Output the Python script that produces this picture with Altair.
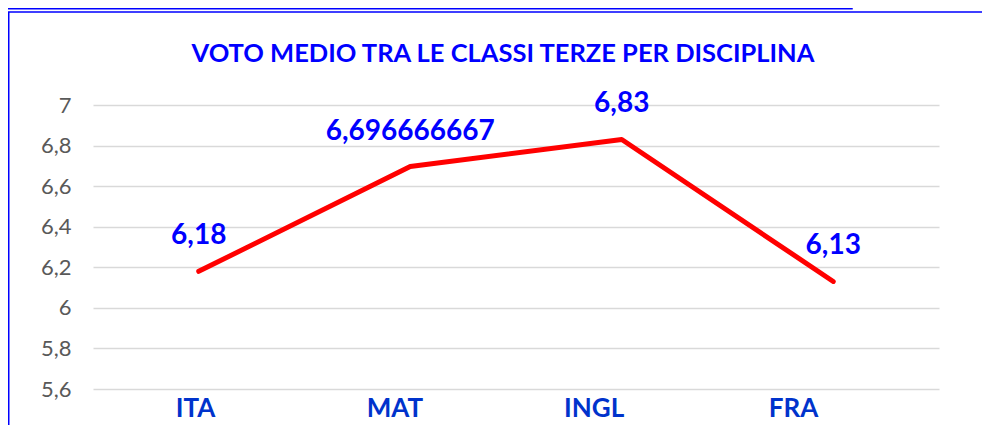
import altair as alt
import pandas as pd

categories = ["ITA", "MAT", "INGL", "FRA"]
values = [6.18, 6.696666667, 6.83, 6.13]
labels = [str(v).replace(".", ",") for v in values]
y_ticks = [5.6, 5.8, 6.0, 6.2, 6.4, 6.6, 6.8, 7.0]
title_text = "VOTO MEDIO TRA LE CLASSI TERZE PER DISCIPLINA"

df = pd.DataFrame({"cat": categories, "val": values, "lab": labels})

FONT = "Lato"
BLUE = "#0000FF"

x_enc = alt.X("cat:N", sort=categories, scale=alt.Scale(type="point", padding=0.5), axis=None)
y_enc = alt.Y("val:Q", scale=alt.Scale(domain=[5.6, 7.0], nice=False, zero=False),
              axis=alt.Axis(title=None, values=y_ticks, labelFont=FONT, labelFontSize=22,
                            labelColor="#595959", ticks=False, domain=False, labelPadding=22,
                            gridColor="#D9D9D9", gridWidth=1.5,
                            labelExpr="replace(format(datum.value, '.2~f'), '.', ',')"))

base = alt.Chart(df)

line = base.mark_line(color="#FF0000", strokeWidth=5, strokeCap="round", strokeJoin="round").encode(
    x=x_enc, y=y_enc)

text = base.mark_text(font=FONT, fontSize=28, fontWeight="bold", color=BLUE,
                      baseline="alphabetic", dy=-27).encode(
    x=alt.X("cat:N", sort=categories), y="val:Q", text="lab:N")

cat_labels = alt.Chart(df).mark_text(font=FONT, fontSize=26, fontWeight="bold", color="#0033CC",
                                     baseline="alphabetic", align="center").encode(
    x=alt.X("cat:N", sort=categories, scale=alt.Scale(type="point", range=[102.5, 700.5], padding=0),
            axis=None),
    y=alt.value(312), text="cat:N")

box = alt.Chart(alt.Data(values=[{}])).mark_rect(fill=None, stroke=BLUE, strokeWidth=1.5).encode(
    x=alt.value(-84.25), x2=alt.value(1200), y=alt.value(-93), y2=alt.value(600))

upper_box = alt.Chart(alt.Data(values=[{}])).mark_rect(fill=None, stroke=BLUE, strokeWidth=1.5).encode(
    x=alt.value(-200), x2=alt.value(759), y=alt.value(-300), y2=alt.value(-96.25))

title = alt.Chart(alt.Data(values=[{"t": title_text}])).mark_text(
    font=FONT, fontSize=25.5, fontWeight="bold", color=BLUE, baseline="alphabetic", align="center").encode(
    x=alt.value(410), y=alt.value(-43), text="t:N")

main = alt.layer(line, text)

chart = alt.layer(upper_box, box, main, cat_labels, title).resolve_scale(x="independent").properties(
    width=846, height=284,
    autosize=alt.AutoSizeParams(type="none"),
    padding={"left": 85, "top": 97, "right": 43, "bottom": 36},
    view=alt.ViewBackground(stroke="transparent", strokeWidth=0),
).configure_view(stroke="transparent", strokeWidth=0).configure(background="white")

chart.save("out.html", embed_options={"renderer": "svg", "actions": False})
